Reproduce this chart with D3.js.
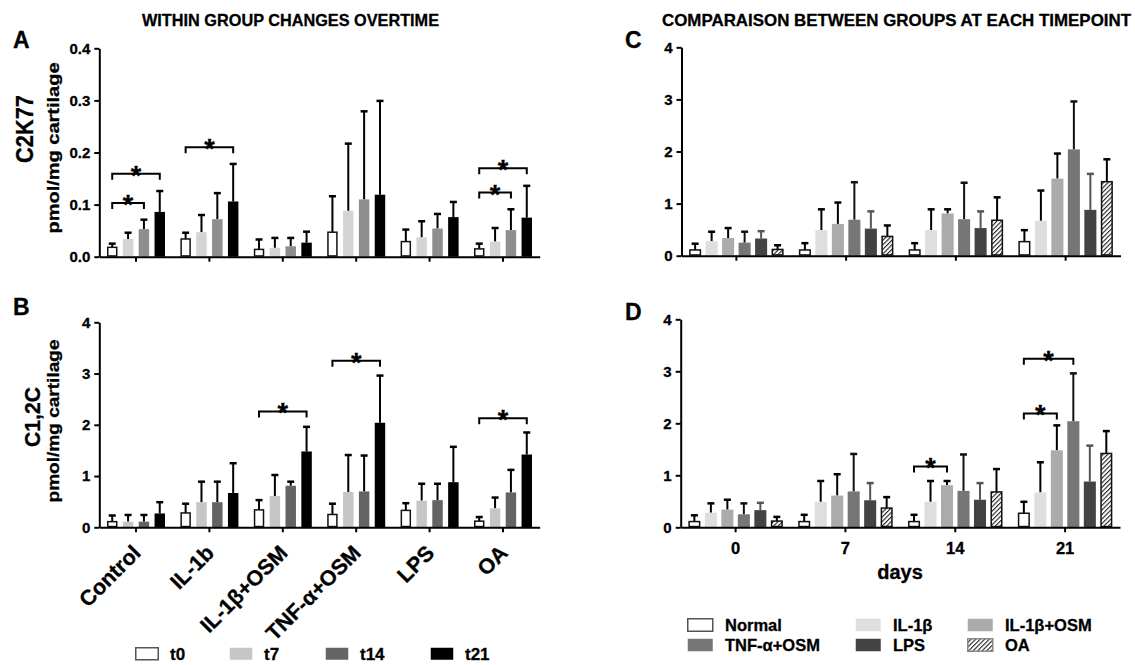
<!DOCTYPE html>
<meta charset="utf-8">
<script src="https://d3js.org/d3.v7.min.js"></script>
<body style="margin:0;background:#fff">
<svg width="1135" height="665"></svg>
<style>
text { font-family: Arial, "Liberation Sans", sans-serif; font-weight: bold; fill: #000;
       stroke: #000; stroke-width: 0.3px; }
</style>
<script>
// ---- data ----
var groups = ["Control", "IL-1b", "IL-1β+OSM", "TNF-α+OSM", "LPS", "OA"];
var times = ["t0", "t7", "t14", "t21"];

// C2K77 (pmol/mg cartilage), rows = groups, cols = timepoints
var c2k77Mean = [
  [0.018, 0.034, 0.053, 0.086],
  [0.034, 0.047, 0.072, 0.106],
  [0.014, 0.017, 0.020, 0.027],
  [0.047, 0.088, 0.110, 0.119],
  [0.029, 0.037, 0.054, 0.076],
  [0.015, 0.029, 0.051, 0.075]
];
var c2k77Sd = [
  [0.008, 0.013, 0.019, 0.041],
  [0.013, 0.034, 0.051, 0.073],
  [0.020, 0.020, 0.017, 0.022],
  [0.070, 0.130, 0.170, 0.181],
  [0.024, 0.032, 0.029, 0.030],
  [0.011, 0.027, 0.041, 0.062]
];
var c2k77Stars = [
  {g: "Control", a: "t0", b: "t14", y: 0.103},
  {g: "Control", a: "t0", b: "t21", y: 0.159},
  {g: "IL-1b", a: "t0", b: "t21", y: 0.21},
  {g: "OA", a: "t0", b: "t14", y: 0.123},
  {g: "OA", a: "t0", b: "t21", y: 0.17}
];

// C1,2C (pmol/mg cartilage), rows = treatments, cols = days
var treatments = ["Normal", "IL-1β", "IL-1β+OSM", "TNF-α+OSM", "LPS", "OA"];
var days = ["0", "7", "14", "21"];
var c12cMean = [
  [0.11, 0.11, 0.11, 0.27],
  [0.28, 0.49, 0.49, 0.67],
  [0.34, 0.61, 0.81, 1.48],
  [0.25, 0.69, 0.70, 2.04],
  [0.33, 0.52, 0.53, 0.88],
  [0.12, 0.37, 0.68, 1.42]
];
var c12cSd = [
  [0.13, 0.14, 0.14, 0.23],
  [0.19, 0.41, 0.41, 0.59],
  [0.20, 0.42, 0.09, 0.49],
  [0.22, 0.73, 0.71, 0.93],
  [0.15, 0.34, 0.33, 0.70],
  [0.09, 0.22, 0.45, 0.44]
];
var c12cStars = [
  {g: "IL-1β+OSM", a: "t0", b: "t21", y: 2.26},
  {g: "TNF-α+OSM", a: "t0", b: "t21", y: 3.25},
  {g: "OA", a: "t0", b: "t21", y: 2.13}
];
var dayStars = [
  {g: "14", a: "Normal", b: "IL-1β+OSM", y: 1.17},
  {g: "21", a: "Normal", b: "IL-1β+OSM", y: 2.19},
  {g: "21", a: "Normal", b: "TNF-α+OSM", y: 3.24}
];

var svg = d3.select("svg");

var defs = svg.append("defs");
var pat = defs.append("pattern").attr("id", "hatch")
    .attr("patternUnits", "userSpaceOnUse")
    .attr("width", 3.2).attr("height", 3.2)
    .attr("patternTransform", "rotate(45)");
pat.append("rect").attr("width", 3.2).attr("height", 3.2).attr("fill", "#fff");
pat.append("line").attr("x1", 0).attr("y1", 0).attr("x2", 0).attr("y2", 3.2)
    .attr("stroke", "#222").attr("stroke-width", 2.2);

function bold(sel, size) {
  sel.attr("font-family", null).attr("fill", null)
     .style("font-family", "Arial, 'Liberation Sans', sans-serif")
     .style("font-weight", "bold")
     .style("font-size", size + "px");
}

function panel(o) {
  var g = svg.append("g");
  var x0 = d3.scaleBand().domain(o.outer).range(o.xr);
  var x1 = d3.scaleBand().domain(o.inner)
      .range([x0.bandwidth() / 2 - o.span / 2, x0.bandwidth() / 2 + o.span / 2])
      .paddingInner(o.pad);
  var y = d3.scaleLinear().domain([0, o.ymax]).range(o.yr);

  var rows = [];
  o.outer.forEach(function(c, i) {
    o.inner.forEach(function(k, j) {
      rows.push({c: c, k: k, i: i, j: j, v: o.mean[i][j], e: o.sd[i][j]});
    });
  });
  var cx = function(c, k) { return x0(c) + x1(k) + x1.bandwidth() / 2; };

  /* error bars (upper only) */
  var eb = g.selectAll("g.err").data(rows).join("g").attr("class", "err")
      .attr("transform", function(d) { return "translate(" + cx(d.c, d.k) + ",0)"; });
  eb.append("line")
      .attr("y1", function(d) { return y(d.v); })
      .attr("y2", function(d) { return y(d.v + d.e); })
      .attr("stroke", function(d) { return o.errColor[d.j]; })
      .attr("stroke-width", 2);
  eb.append("line")
      .attr("x1", -3.5).attr("x2", 3.5)
      .attr("y1", function(d) { return y(d.v + d.e) + 0.5; })
      .attr("y2", function(d) { return y(d.v + d.e) + 0.5; })
      .attr("stroke", function(d) { return o.errColor[d.j]; })
      .attr("stroke-width", 2.5);

  /* bars */
  g.selectAll("rect.bar").data(rows).join("rect").attr("class", "bar")
      .attr("x", function(d) { return x0(d.c) + x1(d.k) + (o.outline[d.j] ? 0.75 : 0); })
      .attr("width", function(d) { return x1.bandwidth() - (o.outline[d.j] ? 1.5 : 0); })
      .attr("y", function(d) { return y(d.v); })
      .attr("height", function(d) { return Math.max(0, y(0) - y(d.v) - (o.outline[d.j] ? 0.75 : 0)); })
      .attr("fill", function(d) { return o.fill[d.j]; })
      .attr("stroke", function(d) { return o.outline[d.j] ? "#111" : "none"; })
      .attr("stroke-width", 1.5);

  /* axes */
  var ya = g.append("g").attr("transform", "translate(" + o.xr[0] + ",0)")
      .call(d3.axisLeft(y).tickValues(o.yticks).tickFormat(o.yfmt)
        .tickSize(5).tickSizeOuter(0).tickPadding(4));
  bold(ya.selectAll("text"), 15);

  var xa = g.append("g").attr("transform", "translate(0," + y(0) + ")")
      .call(d3.axisBottom(x0).tickSize(5).tickSizeOuter(0).tickPadding(10));
  if (o.xlabels === "none") xa.selectAll(".tick text").remove();
  else if (o.xlabels === "rotate") {
    xa.selectAll(".tick text")
        .attr("x", 0).attr("y", 0).attr("dy", 0)
        .attr("text-anchor", "end")
        .attr("transform", "translate(6,27) rotate(-45)");
    bold(xa.selectAll(".tick text"), 21.5);
  } else {
    bold(xa.selectAll(".tick text"), 16.5);
  }
  [ya, xa].forEach(function(a) {
    a.select(".domain").attr("stroke-width", 2);
    a.selectAll(".tick line").attr("stroke-width", 2);
  });

  /* significance brackets */
  var st = g.selectAll("g.star").data(o.stars).join("g").attr("class", "star");
  st.append("path")
      .attr("d", function(d) {
        var a = cx(d.g, d.a), b = cx(d.g, d.b), yy = y(d.y);
        return "M" + a + "," + (yy + 6) + "V" + yy + "H" + b + "V" + (yy + 6);
      })
      .attr("fill", "none").attr("stroke", "#000").attr("stroke-width", 2);
  st.append("text")
      .attr("x", function(d) { return (cx(d.g, d.a) + cx(d.g, d.b)) / 2; })
      .attr("y", function(d) { return y(d.y) + 11; })
      .attr("text-anchor", "middle").style("font-size", "27px")
      .text("*");
  return g;
}

var timeFill = ["#fff", "#d4d4d4", "#8e8e8e", "#000"];
var timeFillB = ["#fff", "#c6c6c6", "#646464", "#000"];
var trtFill = ["#fff", "#dedede", "#ababab", "#767676", "#434343", "url(#hatch)"];

// A
panel({outer: groups, inner: times, xr: [99.3, 539.7], span: 58, pad: 0.34,
  ymax: 0.4, yr: [256.7, 48.3], yticks: [0, 0.1, 0.2, 0.3, 0.4], yfmt: d3.format(".1f"),
  mean: c2k77Mean, sd: c2k77Sd, fill: timeFill, outline: [1, 0, 0, 0],
  errColor: ["#000", "#000", "#000", "#000"], stars: c2k77Stars, xlabels: "none"});

// B
panel({outer: groups, inner: times, xr: [99.3, 539.7], span: 58, pad: 0.34,
  ymax: 4, yr: [527.3, 322.3], yticks: [0, 1, 2, 3, 4], yfmt: d3.format("d"),
  mean: c12cMean, sd: c12cSd, fill: timeFillB, outline: [1, 0, 0, 0],
  errColor: ["#000", "#000", "#000", "#000"], stars: c12cStars, xlabels: "rotate"});

var errC = ["#000", "#000", "#000", "#111", "#555", "#000"];
// C
panel({outer: days, inner: treatments, xr: [681.5, 1120.5], span: 94.5, pad: 0.27,
  ymax: 4, yr: [255.7, 47.3], yticks: [0, 1, 2, 3, 4], yfmt: d3.format("d"),
  mean: d3.transpose(c12cMean), sd: d3.transpose(c12cSd), fill: trtFill, outline: [1, 0, 0, 0, 0, 1],
  errColor: errC, stars: [], xlabels: "none"});

// D
panel({outer: days, inner: treatments, xr: [680.7, 1120], span: 94.5, pad: 0.27,
  ymax: 4, yr: [527.3, 319.3], yticks: [0, 1, 2, 3, 4], yfmt: d3.format("d"),
  mean: d3.transpose(c12cMean), sd: d3.transpose(c12cSd), fill: trtFill, outline: [1, 0, 0, 0, 0, 1],
  errColor: errC, stars: dayStars, xlabels: "plain"});

/* titles and labels */
svg.append("text").attr("x", 142).attr("y", 26).style("font-size", "16.5px")
    .attr("textLength", 297).attr("lengthAdjust", "spacingAndGlyphs")
    .text("WITHIN GROUP CHANGES OVERTIME");
svg.append("text").attr("x", 662).attr("y", 26).style("font-size", "16.5px")
    .attr("textLength", 469).attr("lengthAdjust", "spacingAndGlyphs")
    .text("COMPARAISON BETWEEN GROUPS AT EACH TIMEPOINT");

[["A", 13, 48], ["B", 13, 315], ["C", 625, 48], ["D", 625, 320]].forEach(function(p) {
  svg.append("text").attr("x", p[1]).attr("y", p[2]).style("font-size", "23px").text(p[0]);
});

function ytitle(t, x, y, size, len) {
  svg.append("text").attr("transform", "translate(" + x + "," + y + ") rotate(-90)")
      .attr("text-anchor", "middle").style("font-size", size + "px")
      .attr("textLength", len).attr("lengthAdjust", "spacingAndGlyphs").text(t);
}
ytitle("C2K77", 33, 129, 24, 68);
ytitle("pmol/mg cartilage", 59, 148, 16, 171);
ytitle("C1,2C", 40, 417, 22, 60);
ytitle("pmol/mg cartilage", 59, 421, 16, 163);

svg.append("text").attr("x", 900).attr("y", 579).attr("text-anchor", "middle")
    .style("font-size", "20px").text("days");

/* legends */
var legL = svg.selectAll("g.legL").data(times).join("g").attr("class", "legL")
    .attr("transform", function(d, i) { return "translate(" + [135, 229, 325, 430][i] + ",647)"; });
legL.append("rect").attr("x", 0.75).attr("y", 0.75).attr("width", 22.5).attr("height", 12)
    .attr("fill", function(d, i) { return timeFillB[i]; })
    .attr("stroke", function(d, i) { return i === 0 ? "#555" : "none"; }).attr("stroke-width", 1.5);
legL.append("text").attr("x", 35).attr("y", 12.5).style("font-size", "17px").text(function(d) { return d; });

var legR = svg.selectAll("g.legR").data(treatments).join("g").attr("class", "legR")
    .attr("transform", function(d, i) {
      return "translate(" + [687, 855, 967][i % 3] + "," + (i < 3 ? 618 : 638) + ")";
    });
legR.append("rect").attr("x", 0.75).attr("y", 0.75).attr("width", 25).attr("height", 12.5)
    .attr("fill", function(d, i) { return trtFill[i]; })
    .attr("stroke", function(d, i) { return i === 0 ? "#555" : (i === 5 ? "#888" : "none"); })
    .attr("stroke-width", 1.5);
legR.append("text").attr("x", 38).attr("y", 13).style("font-size", "16.5px").text(function(d) { return d; });
</script>
</body>
